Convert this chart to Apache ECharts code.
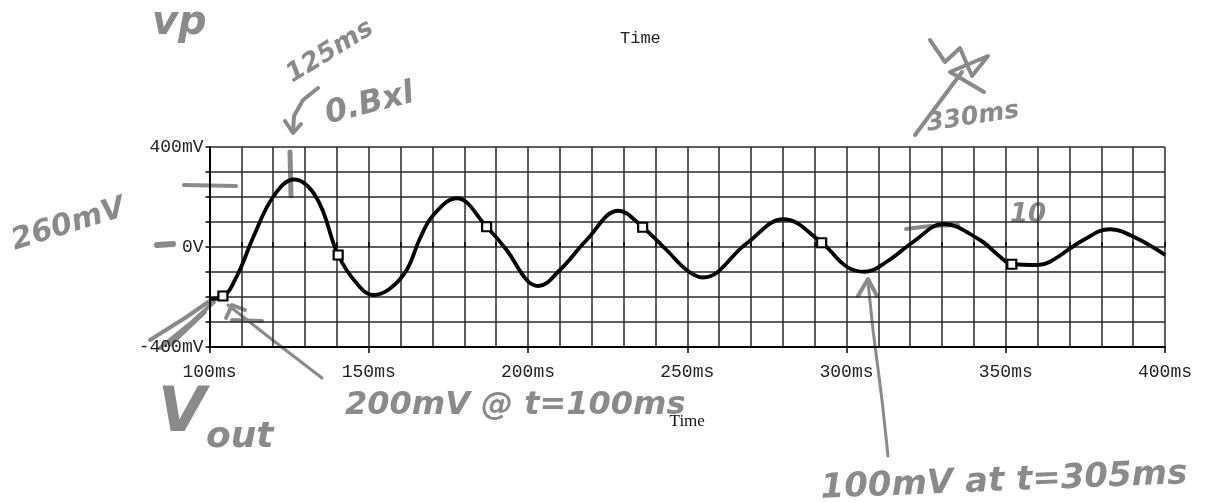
<!DOCTYPE html>
<html><head><meta charset="utf-8">
<script src="https://cdn.jsdelivr.net/npm/echarts@6/dist/echarts.min.js"></script>
<style>html,body{margin:0;padding:0;background:#fff}#c{width:1220px;height:503px}</style>
</head><body><div id="c"></div>
<script>
// ---- data ----
const timeMs = [100, 104, 108.5, 113.8, 120, 126.5, 133.7, 140.4, 146.2, 151.4, 156.5, 161.9, 166.1, 170.3, 177.6, 187, 193.3, 199.6, 203.2, 210, 218.4, 228.4, 236, 243.5, 249.8, 254.9, 268.7, 280.2, 292.2, 300.1, 305.8, 312.6, 321, 330.4, 341.9, 348.2, 351.9, 360.2, 363.9, 374.4, 382.7, 391.1, 400];
const voutMv = [-208, -200, -119, 41, 201, 270, 195, -32, -145, -192, -168, -92, 35, 128, 195, 81, -12, -132, -156, -92, 28, 145, 79, -12, -92, -122, 15, 111, 17, -79, -99, -59, 21, 92, 28, -39, -69, -72, -59, 28, 71, 35, -32];
const markerTimeMs = [104.2, 140.4, 187.0, 236.0, 292.2, 351.9];
const markerVoutMv = [-196, -32, 81, 79, 17, -69];
const xTickValues = [100, 150, 200, 250, 300, 350, 400];
const yTickLabels = {'400': '400mV', '0': '0V', '-400': '-400mV'};
const axisTitle = 'Time';
const notes = ['vp', '125ms', '0.Bxl', '260mV', '330ms', '10', 'V', 'out', '200mV @ t=100ms', '100mV at t=305ms'];

const lineData = timeMs.map((t, i) => [t, voutMv[i]]);
const markerData = markerTimeMs.map((t, i) => [t, markerVoutMv[i]]);

const mono = '"Liberation Mono", "DejaVu Sans Mono", monospace';
const hand = { fill: '#8a8a8a', fontFamily: '"DejaVu Sans"', fontStyle: 'italic', fontWeight: 'bold' };
const pen = { stroke: '#8a8a8a', lineWidth: 4, lineCap: 'round', lineJoin: 'round', fill: null };
const T = (o) => Object.assign({}, hand, o);
const P = (o) => Object.assign({}, pen, o || {});

const chart = echarts.init(document.getElementById('c'), null, { renderer: 'canvas' });
chart.setOption({
  backgroundColor: '#fff',
  animation: false,
  title: { text: axisTitle, left: 615, top: 25, textStyle: { fontFamily: mono, fontSize: 17, fontWeight: 'normal', color: '#222' } },
  grid: { left: 209.5, right: 55, top: 147, bottom: 156, containLabel: false },
  xAxis: [{
    type: 'value', min: 100, max: 400, interval: 50,
    name: axisTitle, nameLocation: 'middle', nameGap: 66,
    nameTextStyle: { fontFamily: '"Liberation Serif", serif', fontSize: 17, color: '#111' },
    axisLine: { onZero: false, lineStyle: { color: '#000', width: 2 } },
    axisTick: { show: true, length: 6, lineStyle: { color: '#000', width: 1.5 } },
    minorTick: { show: false },
    splitLine: { show: true, lineStyle: { color: '#2a2a2a', width: 1.5 } },
    minorSplitLine: { show: true, lineStyle: { color: '#2a2a2a', width: 1.5 } },
    axisLabel: { formatter: v => xTickValues.includes(v) ? v + 'ms' : '', fontFamily: mono, fontSize: 18, color: '#222', margin: 16 }
  }, {
    type: 'value', min: 100, max: 400, interval: 10, position: 'bottom',
    axisLine: { show: false },
    axisTick: { show: true, inside: true, length: 5, lineStyle: { color: '#000', width: 1.5 } },
    splitLine: { show: false }, axisLabel: { show: false }
  }],
  yAxis: {
    type: 'value', min: -400, max: 400, interval: 100,
    axisLine: { onZero: false, lineStyle: { color: '#000', width: 2 } },
    axisTick: { show: true, length: 4, lineStyle: { color: '#000', width: 1.5 } },
    splitLine: { show: true, lineStyle: { color: '#2a2a2a', width: 1.5 } },
    axisLabel: { formatter: v => yTickLabels[String(v)] || '', fontFamily: mono, fontSize: 18, color: '#222', margin: 6 }
  },
  series: [{
    type: 'line', data: lineData, smooth: 0.4, showSymbol: false,
    lineStyle: { color: '#000', width: 3.8 }, z: 3
  }, {
    type: 'scatter', data: markerData, symbol: 'rect', symbolSize: 9,
    itemStyle: { color: '#ffffff', opacity: 1, borderColor: '#000', borderWidth: 2.2 }, z: 4
  }],
  graphic: [
    { type: 'text', left: 152, top: 4, style: T({ text: notes[0], fontSize: 40 }) },
    { type: 'text', x: 282, y: 66, rotation: 0.55, style: T({ text: notes[1], fontSize: 26 }) },
    { type: 'text', x: 322, y: 100, rotation: 0.25, style: T({ text: notes[2], fontSize: 32 }) },
    { type: 'polyline', shape: { points: [[318, 88], [303, 100], [294, 116], [293, 132]] }, style: P() },
    { type: 'polyline', shape: { points: [[285, 121], [293, 133], [301, 124]] }, style: P() },
    { type: 'polyline', shape: { points: [[290, 152], [291, 196]] }, style: P({ lineWidth: 5 }) },
    { type: 'text', x: 8, y: 228, rotation: 0.3, style: T({ text: notes[3], fontSize: 30 }) },
    { type: 'polyline', shape: { points: [[184, 185], [236, 186]] }, style: P() },
    { type: 'polyline', shape: { points: [[157, 245], [173, 244]] }, style: P({ lineWidth: 6 }) },
    { type: 'polyline', shape: { points: [[930, 40], [945, 62], [960, 48], [972, 76], [988, 56], [950, 72], [984, 92]] }, style: P() },
    { type: 'polyline', shape: { points: [[915, 135], [950, 88], [962, 72]] }, style: P() },
    { type: 'text', x: 925, y: 112, rotation: 0.15, style: T({ text: notes[4], fontSize: 25 }) },
    { type: 'polyline', shape: { points: [[906, 229], [930, 226], [958, 225]] }, style: P() },
    { type: 'text', left: 1010, top: 202, style: T({ text: notes[5], fontSize: 26 }) },
    { type: 'text', left: 158, top: 384, style: T({ text: notes[6], fontSize: 62 }) },
    { type: 'text', left: 206, top: 420, style: T({ text: notes[7], fontSize: 36 }) },
    { type: 'polyline', shape: { points: [[150, 340], [185, 318], [214, 298]] }, style: P() },
    { type: 'polyline', shape: { points: [[160, 348], [192, 322], [214, 302]] }, style: P() },
    { type: 'polyline', shape: { points: [[170, 345], [205, 312]] }, style: P() },
    { type: 'polyline', shape: { points: [[322, 378], [270, 338], [228, 305]] }, style: P({ lineWidth: 3 }) },
    { type: 'polyline', shape: { points: [[226, 318], [232, 305], [245, 310]] }, style: P() },
    { type: 'polyline', shape: { points: [[232, 320], [262, 321]] }, style: P() },
    { type: 'text', left: 345, top: 390, style: T({ text: notes[8], fontSize: 32 }) },
    { type: 'polyline', shape: { points: [[888, 456], [882, 400], [873, 330], [868, 282]] }, style: P({ lineWidth: 3 }) },
    { type: 'polyline', shape: { points: [[858, 296], [868, 279], [877, 296]] }, style: P() },
    { type: 'text', x: 820, y: 472, rotation: 0.04, style: T({ text: notes[9], fontSize: 34 }) }
  ]
});
</script></body></html>
